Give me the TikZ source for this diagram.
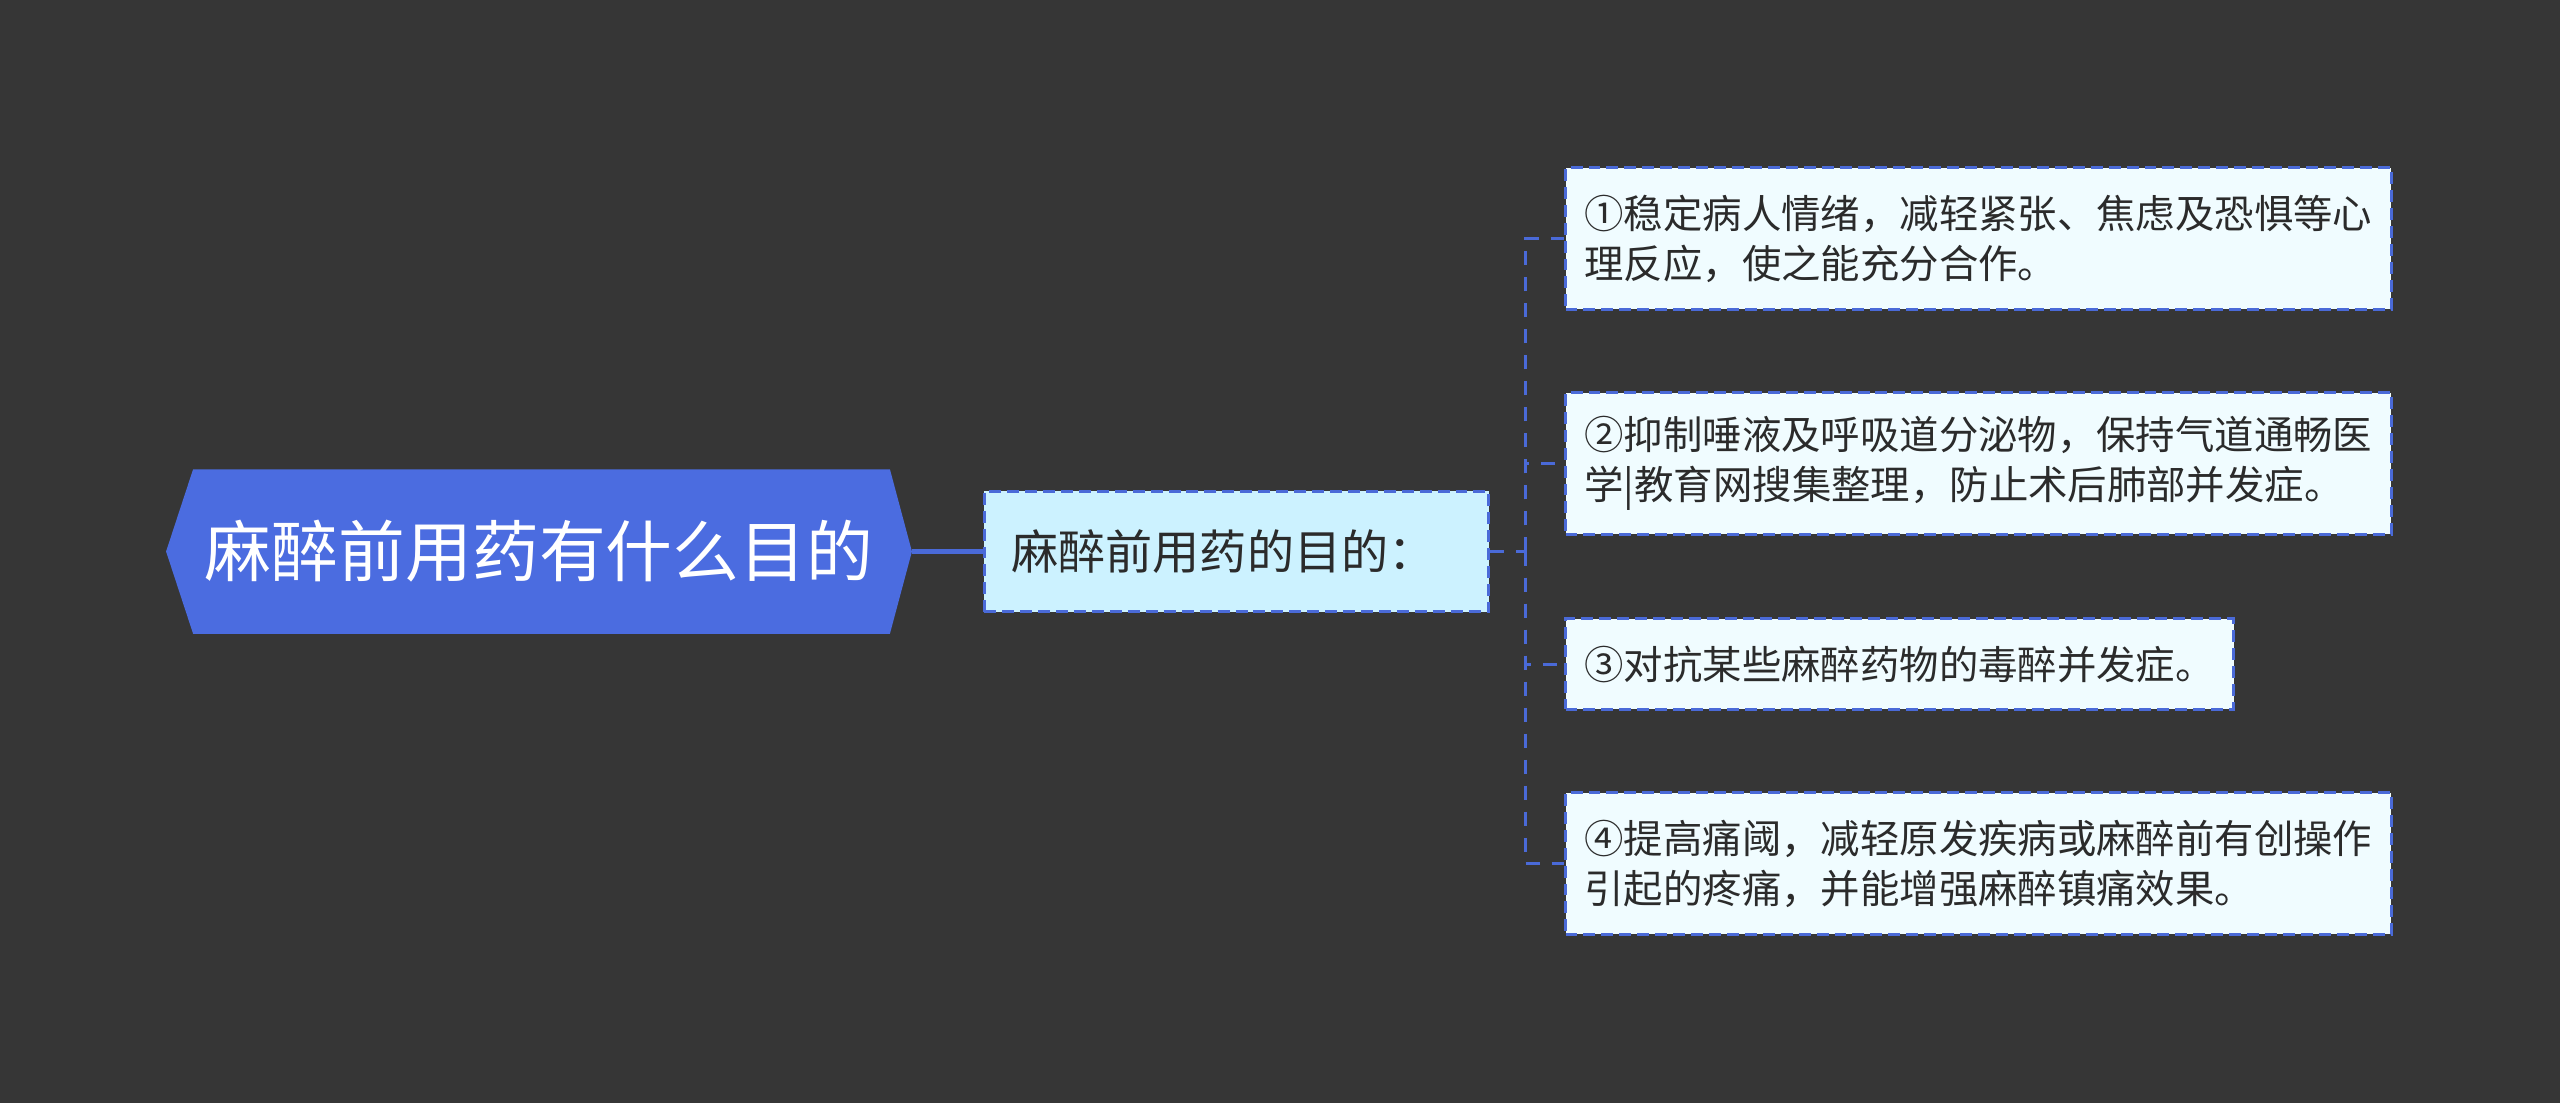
\documentclass[tikz,border=0pt]{standalone}
\usepackage{fontspec}
\setmainfont{Noto Sans CJK SC}
\usetikzlibrary{positioning,calc,backgrounds}
\definecolor{canvas}{HTML}{363636}
\definecolor{rootblue}{HTML}{4B6CE0}
\definecolor{subcyan}{HTML}{CCF2FF}
\definecolor{leafwhite}{HTML}{F0FCFF}
\definecolor{edgeblue}{HTML}{4A6AD8}
\definecolor{inktext}{HTML}{2B2B2B}
\tikzset{
  roottopic/.style={rectangle,minimum width=7.44cm,minimum height=1.63cm,inner sep=0pt,
    text=white,font=\fontsize{19pt}{23pt}\selectfont},
  subtopic/.style={rectangle,draw=edgeblue,fill=subcyan,dash pattern=on 3.4pt off 1.7pt,
    line width=0.85pt,text width=4.5cm,align=left,inner xsep=0.27cm,minimum height=1.2cm,
    text=inktext,font=\fontsize{13.4pt}{16pt}\selectfont},
  leaf/.style={rectangle,draw=edgeblue,fill=leafwhite,dash pattern=on 3.4pt off 1.7pt,
    line width=0.85pt,align=left,inner xsep=0.19cm,inner ysep=0pt,minimum height=#1,
    anchor=west,text=inktext,font=\fontsize{11.2pt}{14.2pt}\selectfont},
  leaf/.default={1.41cm},
  trunk/.style={line width=1.6pt,draw=edgeblue},
  twig/.style={line width=0.85pt,draw=edgeblue,dash pattern=on 4pt off 3.4pt},
}

\begin{document}
\begin{tikzpicture}[x=0.01cm,y=-0.01cm]
  \node[roottopic] (root) at (539,551.5) {麻醉前用药有什么目的};
  \node[subtopic,right=0.71cm of root] (sub) {麻醉前用药的目的：};
  \node[leaf] (leaf1) at (1564,238.5) {①稳定病人情绪，减轻紧张、焦虑及恐惧等心\\理反应，使之能充分合作。};
  \node[leaf] (leaf2) at (1564,463.5) {②抑制唾液及呼吸道分泌物，保持气道通畅医\\学|教育网搜集整理，防止术后肺部并发症。};
  \node[leaf=0.9cm] (leaf3) at (1564,664) {③对抗某些麻醉药物的毒醉并发症。};
  \node[leaf] (leaf4) at (1564,863.5) {④提高痛阈，减轻原发疾病或麻醉前有创操作\\引起的疼痛，并能增强麻醉镇痛效果。};
  \coordinate[right=0.35cm of sub.east] (fork);
  \begin{scope}[on background layer]
    \fill[canvas] (0,0) rectangle (2560,1103);
    \fill[rootblue] (root.west) -- ($(root.north west)+(27,0)$) -- ($(root.north east)+(-22,0)$)
      -- (root.east) -- ($(root.south east)+(-22,0)$) -- ($(root.south west)+(27,0)$) -- cycle;
  \end{scope}
  \draw[trunk] (root) -- (sub);
  \draw[twig] (sub.east) -- (fork);
  \draw[twig] (fork) |- (leaf1.west);
  \draw[twig] (fork) |- (leaf2.west);
  \draw[twig] (fork) |- (leaf3.west);
  \draw[twig] (fork) |- (leaf4.west);
\end{tikzpicture}
\end{document}
